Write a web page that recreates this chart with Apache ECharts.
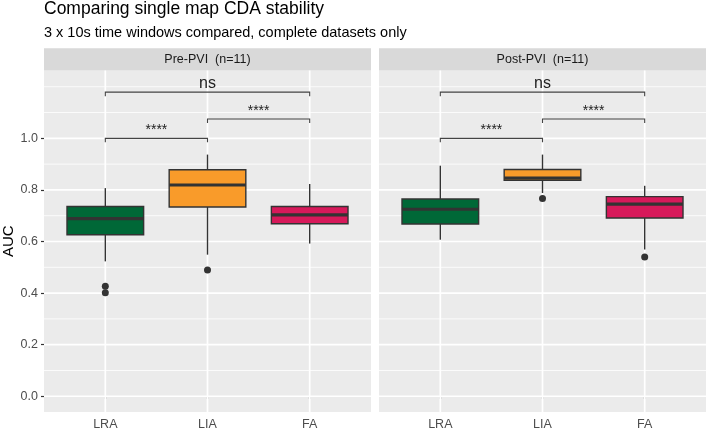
<!DOCTYPE html>
<html>
<head>
<meta charset="utf-8">
<script src="https://cdn.jsdelivr.net/npm/echarts@6/dist/echarts.min.js"></script>
<style>
    html, body { margin: 0; padding: 0; background: #fff; }
    #chart { width: 709px; height: 431px; }
</style>
</head>
<body>
<div id="chart"></div>
<script>
var categories = ['LRA', 'LIA', 'FA'];
var fillColors = ['#006837', '#F99B2A', '#D7195A'];
var panelTitles = ['Pre-PVI  (n=11)', 'Post-PVI  (n=11)'];

// whisker low, Q1, median, Q3, whisker high
var preBoxes = [
    [0.523, 0.626, 0.689, 0.736, 0.807],
    [0.549, 0.734, 0.819, 0.878, 0.937],
    [0.592, 0.669, 0.703, 0.736, 0.823]
];
var postBoxes = [
    [0.607, 0.668, 0.725, 0.765, 0.894],
    [0.788, 0.837, 0.846, 0.879, 0.937],
    [0.569, 0.691, 0.745, 0.774, 0.816]
];
// [category position, AUC]
var preOutliers = [[1, 0.427], [1, 0.401], [2, 0.490]];
var postOutliers = [[2, 0.767], [3, 0.540]];

// [from, to, bracket height, label]
var brackets = [
    [1, 2, 1.000, '****'],
    [2, 3, 1.075, '****'],
    [1, 3, 1.179, 'ns']
];

var yTicks = [0, 0.2, 0.4, 0.6, 0.8, 1.0];
var yMinor = [0.1, 0.3, 0.5, 0.7, 0.9, 1.1, 1.2];
var xTicks = [1, 2, 3];

var fontName = 'Liberation Sans';
var panelLeft = [44, 379];
var panelWidth = 327;
var panelTop = 70.5;
var panelHeight = 342;

function renderHLine(params, api) {
    var cs = params.coordSys;
    var y = api.coord([1, api.value(0)])[1];
    return {
        type: 'line',
        shape: { x1: cs.x, y1: y, x2: cs.x + cs.width, y2: y },
        style: { stroke: '#fff', lineWidth: api.value(1) }
    };
}

function renderVLine(params, api) {
    var cs = params.coordSys;
    var x = api.coord([api.value(0), 0])[0];
    return {
        type: 'line',
        shape: { x1: x, y1: cs.y, x2: x, y2: cs.y + cs.height },
        style: { stroke: '#fff', lineWidth: 1.7 }
    };
}

function renderBox(params, api) {
    var x = api.value(0);
    var half = 0.375;
    var lo = api.coord([x, api.value(1)]);
    var q1 = api.coord([x - half, api.value(2)]);
    var med = api.coord([x - half, api.value(3)]);
    var q3 = api.coord([x + half, api.value(4)]);
    var hi = api.coord([x, api.value(5)]);
    var line = { stroke: '#333', lineWidth: 1.4 };
    return {
        type: 'group',
        children: [
            { type: 'line', shape: { x1: lo[0], y1: q1[1], x2: lo[0], y2: lo[1] }, style: line },
            { type: 'line', shape: { x1: hi[0], y1: q3[1], x2: hi[0], y2: hi[1] }, style: line },
            {
                type: 'rect',
                shape: { x: q1[0], y: q3[1], width: q3[0] - q1[0], height: q1[1] - q3[1] },
                style: { fill: fillColors[params.dataIndex], stroke: '#333', lineWidth: 1.4 }
            },
            { type: 'line', shape: { x1: q1[0], y1: med[1], x2: q3[0], y2: med[1] }, style: { stroke: '#333', lineWidth: 3.2 } }
        ]
    };
}

function renderBracket(params, api) {
    var y = api.value(2);
    var p1 = api.coord([api.value(0), y]);
    var p2 = api.coord([api.value(1), y]);
    var tip = 4;
    var label = brackets[params.dataIndex][3];
    return {
        type: 'group',
        children: [
            {
                type: 'polyline',
                shape: { points: [[p1[0], p1[1] + tip], p1, p2, [p2[0], p2[1] + tip]] },
                style: { stroke: '#444', lineWidth: 1.1, fill: null }
            },
            {
                type: 'text',
                style: {
                    x: (p1[0] + p2[0]) / 2, y: p1[1] - 1,
                    text: label,
                    align: 'center', verticalAlign: 'bottom',
                    fontFamily: fontName, fontSize: label === 'ns' ? 16 : 14, fill: '#222'
                }
            }
        ]
    };
}

var option = {
    backgroundColor: '#fff',
    animation: false,
    textStyle: { fontFamily: fontName },
    title: [
        { text: 'Comparing single map CDA stability', left: 44, top: 0, padding: 0,
          textStyle: { fontFamily: fontName, fontSize: 17.5, fontWeight: 'normal', color: '#000' } },
        { text: '3 x 10s time windows compared, complete datasets only', left: 44, top: 25, padding: 0,
          textStyle: { fontFamily: fontName, fontSize: 14.5, fontWeight: 'normal', color: '#000' } }
    ],
    graphic: [],
    grid: [],
    xAxis: [],
    yAxis: [],
    series: []
};

var panelBoxes = [preBoxes, postBoxes];
var panelOutliers = [preOutliers, postOutliers];

for (var p = 0; p < 2; p++) {
    option.graphic.push({
        type: 'rect', left: panelLeft[p], top: 48.3,
        shape: { width: panelWidth, height: 22.2 },
        style: { fill: '#D9D9D9' }
    });
    option.graphic.push({
        type: 'text', x: panelLeft[p] + panelWidth / 2, y: 59.5,
        style: { text: panelTitles[p], align: 'center', verticalAlign: 'middle',
                 fontFamily: fontName, fontSize: 12.5, fill: '#1A1A1A' }
    });
    option.grid.push({
        left: panelLeft[p], top: panelTop, width: panelWidth, height: panelHeight,
        show: true, backgroundColor: '#EBEBEB', borderWidth: 0
    });
    option.xAxis.push({
        type: 'value', gridIndex: p, min: 0.4, max: 3.6,
        axisLine: { show: false },
        splitLine: { show: false },
        axisTick: { show: true, length: 3, customValues: xTicks, lineStyle: { color: '#333', width: 1.2 } },
        axisLabel: {
            customValues: xTicks, margin: 6, fontSize: 12.5, color: '#4D4D4D', fontFamily: fontName,
            formatter: function (v) { return categories[Math.round(v) - 1]; }
        }
    });
    option.yAxis.push({
        type: 'value', gridIndex: p, min: -0.061, max: 1.263,
        name: p === 0 ? 'AUC' : '', nameLocation: 'middle', nameGap: 24, nameRotate: 90,
        nameTextStyle: { fontSize: 15, color: '#000', fontFamily: fontName },
        axisLine: { show: false },
        splitLine: { show: false },
        axisTick: { show: p === 0, length: 3, customValues: yTicks, lineStyle: { color: '#333', width: 1.2 } },
        axisLabel: {
            show: p === 0, customValues: yTicks, margin: 6, fontSize: 12.5, color: '#4D4D4D', fontFamily: fontName,
            formatter: function (v) { return v.toFixed(1); }
        }
    });
    option.series.push({
        type: 'custom', xAxisIndex: p, yAxisIndex: p, z: 1, silent: true,
        renderItem: renderHLine,
        data: yMinor.map(function (v) { return [v, 0.8]; }).concat(yTicks.map(function (v) { return [v, 1.7]; }))
    });
    option.series.push({
        type: 'custom', xAxisIndex: p, yAxisIndex: p, z: 1, silent: true,
        renderItem: renderVLine,
        data: xTicks.map(function (v) { return [v, 0]; })
    });
    option.series.push({
        type: 'custom', xAxisIndex: p, yAxisIndex: p, z: 3,
        renderItem: renderBox,
        data: panelBoxes[p].map(function (b, i) { return [i + 1].concat(b); })
    });
    option.series.push({
        type: 'scatter', xAxisIndex: p, yAxisIndex: p, z: 4,
        symbolSize: 7, itemStyle: { color: '#333', opacity: 1 },
        data: panelOutliers[p]
    });
    option.series.push({
        type: 'custom', xAxisIndex: p, yAxisIndex: p, z: 4,
        renderItem: renderBracket,
        data: brackets.map(function (b) { return [b[0], b[1], b[2]]; })
    });
}

var chartDom = document.getElementById('chart');
var myChart = echarts.init(chartDom);
myChart.setOption(option);
</script>
</body>
</html>
